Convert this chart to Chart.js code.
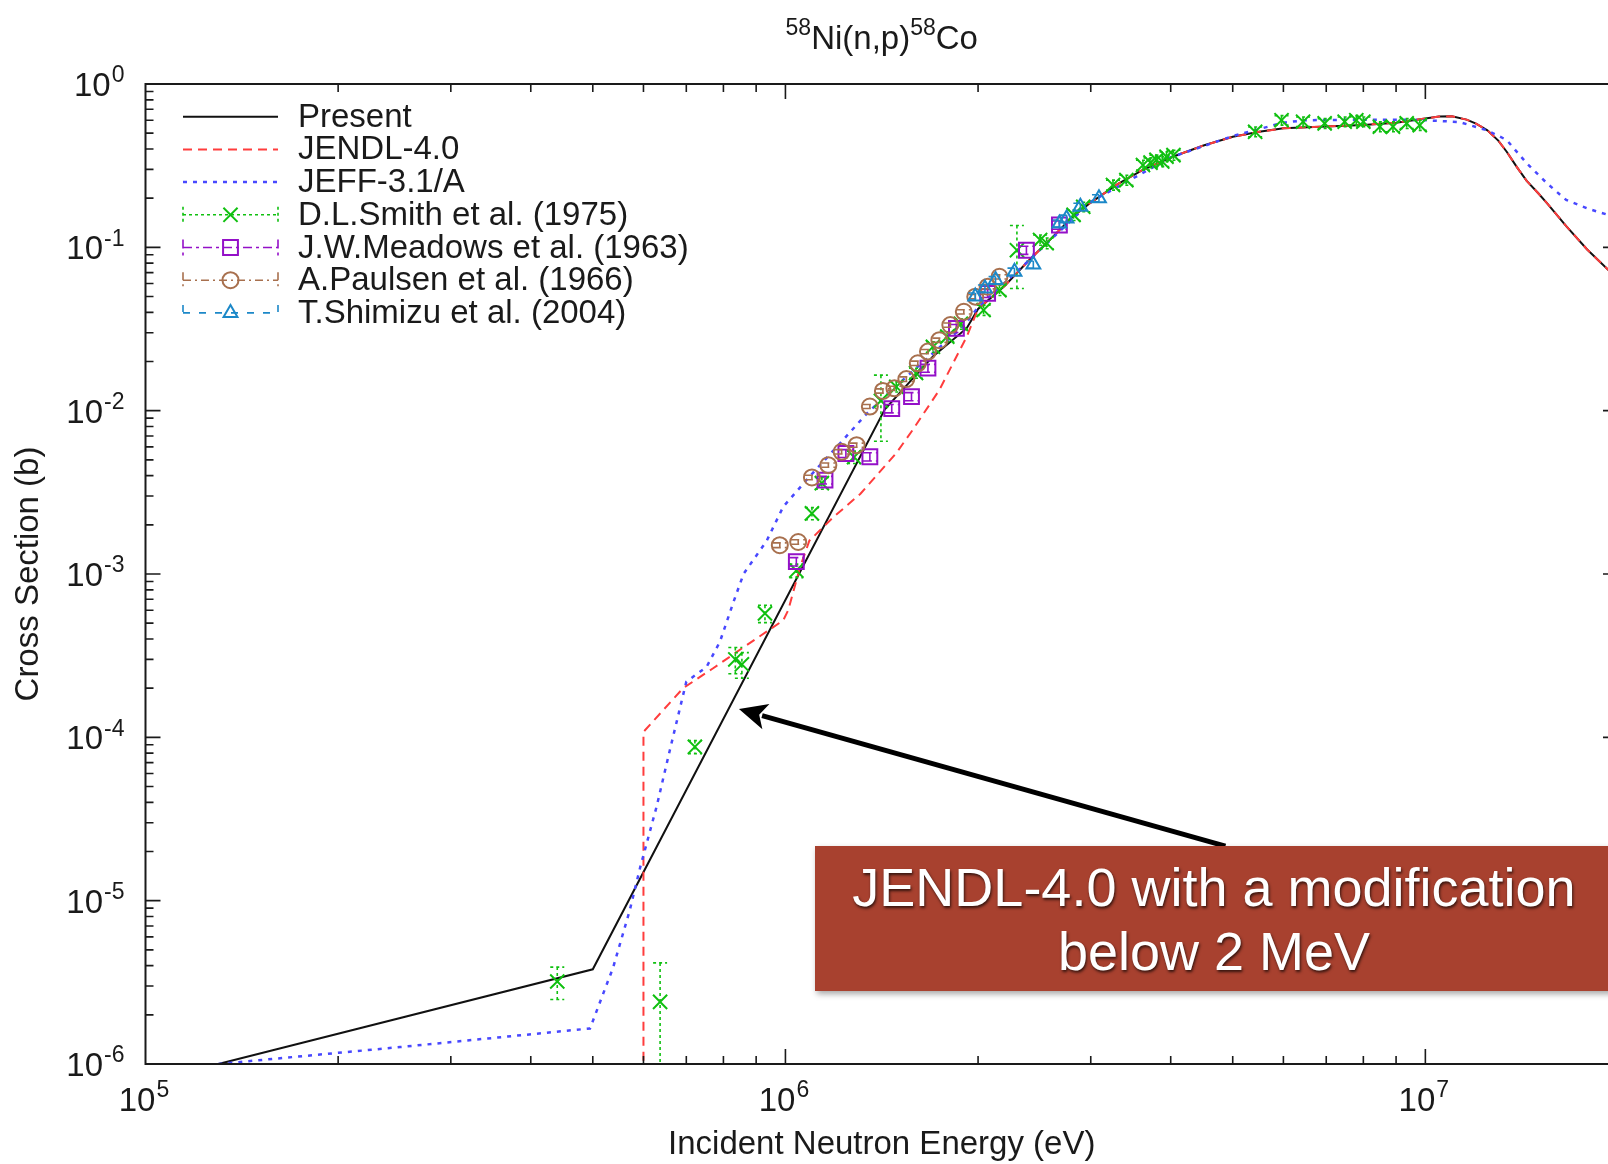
<!DOCTYPE html>
<html>
<head>
<meta charset="utf-8">
<title>58Ni(n,p)58Co</title>
<script src="https://cdn.jsdelivr.net/npm/chart.js@4.4.0/dist/chart.umd.min.js"></script>
<style>
  html, body { margin: 0; padding: 0; background: #fff; overflow: hidden; }
  #wrap { position: relative; width: 1608px; height: 1164px; overflow: hidden; }
  #xs { position: absolute; left: 0; top: 0; }
  .note {
    position: absolute; left: 815px; top: 846px; width: 798px; height: 145px;
    box-sizing: border-box; padding-top: 9px;
    background: #a8412f; color: #fff;
    font: 54px/64px "Liberation Sans", Arial, sans-serif; text-align: center;
    text-shadow: 1px 2px 3px rgba(0,0,0,0.7);
    box-shadow: 2px 3px 6px rgba(0,0,0,0.35);
  }
</style>
</head>
<body>
<div id="wrap">
  <canvas id="xs" width="1640" height="1164"></canvas>
  <div class="note">JENDL-4.0 with a modification<br>below 2 MeV</div>
</div>
<script>
(function () {
  "use strict";

  // evaluated curves (energy in eV, cross section in b)
  const highE  = [2.0e6, 2.2e6, 2.4e6, 2.6e6, 2.8e6, 3.0e6, 3.3e6, 3.6e6, 4.0e6, 4.5e6, 5.0e6, 5.5e6, 6.0e6, 7.0e6, 8.0e6, 9.0e6,
                  1.0e7, 1.05e7, 1.1e7, 1.16e7, 1.2e7, 1.25e7, 1.3e7, 1.34e7, 1.39e7, 1.44e7, 1.5e7, 1.55e7, 1.66e7, 1.79e7, 1.93e7, 2.0e7];
  const highXS = [0.042, 0.058, 0.083, 0.113, 0.152, 0.188, 0.243, 0.295, 0.355, 0.42, 0.475, 0.51, 0.535, 0.55, 0.562, 0.58,
                  0.615, 0.632, 0.634, 0.605, 0.572, 0.52, 0.45, 0.385, 0.31, 0.255, 0.215, 0.186, 0.135, 0.097, 0.073, 0.066];

  const presentLowE  = [1.3e5, 5.0e5, 1.43e6, 1.7e6, 1.92e6];
  const presentLowXS = [1.0e-6, 3.8e-6, 1.02e-2, 2.15e-2, 3.2e-2];

  const jendlLowE  = [6.0e5, 6.0e5, 6.92e5, 7.7e5, 8.7e5, 9.92e5, 1.01e6, 1.054e6, 1.09e6, 1.19e6, 1.31e6, 1.49e6, 1.58e6, 1.74e6, 1.92e6];
  const jendlLowXS = [1.0e-8, 1.08e-4, 2.0e-4, 2.64e-4, 3.67e-4, 5.2e-4, 6.0e-4, 1.1e-3, 1.6e-3, 2.24e-3, 3.1e-3, 5.5e-3, 7.6e-3, 1.34e-2, 2.84e-2];

  const jeffE  = [1.3e5, 2.5e5, 4.95e5, 5.38e5, 5.71e5, 5.93e5, 6.29e5, 6.6e5, 7.0e5, 7.53e5, 7.9e5, 8.28e5, 8.6e5, 9.35e5, 9.92e5,
                  1.09e6, 1.23e6, 1.34e6, 1.5e6, 1.7e6, 1.9e6, 2.0e6, 2.4e6, 3.0e6, 4.0e6, 5.0e6, 5.5e6, 6.0e6, 6.5e6, 8.0e6, 9.0e6,
                  1.0e7, 1.13e7, 1.25e7, 1.34e7, 1.44e7, 1.55e7, 1.66e7, 1.79e7, 1.93e7, 2.0e7];
  const jeffXS = [1.0e-6, 1.27e-6, 1.65e-6, 3.9e-6, 8.7e-6, 1.6e-5, 3.76e-5, 8.4e-5, 2.19e-4, 2.7e-4, 3.85e-4, 6.6e-4, 1.0e-3, 1.6e-3, 2.58e-3,
                  3.94e-3, 6.6e-3, 9.6e-3, 1.45e-2, 2.25e-2, 3.3e-2, 4.3e-2, 0.083, 0.19, 0.355, 0.48, 0.53, 0.58, 0.60, 0.605, 0.605,
                  0.60, 0.585, 0.52, 0.454, 0.327, 0.246, 0.195, 0.173, 0.158, 0.152];

  // measurements
  const smithE   = [4.4e5, 6.37e5, 7.22e5, 8.35e5, 8.55e5, 9.29e5, 1.04e6, 1.10e6, 1.14e6, 1.28e6, 1.41e6, 1.49e6, 1.60e6, 1.70e6,
                    1.79e6, 1.88e6, 2.04e6, 2.16e6, 2.30e6, 2.50e6, 2.56e6, 2.82e6, 2.92e6, 3.25e6, 3.41e6, 3.62e6, 3.72e6, 3.80e6,
                    3.88e6, 3.94e6, 4.04e6, 5.42e6, 5.96e6, 6.44e6, 6.96e6, 7.48e6, 7.80e6, 8.00e6, 8.49e6, 8.90e6, 9.35e6, 9.80e6];
  const smithXS  = [3.2e-6, 2.4e-6, 8.75e-5, 3.0e-4, 2.8e-4, 5.74e-4, 1.05e-3, 2.35e-3, 3.6e-3, 5.2e-3, 1.15e-2, 1.4e-2, 1.7e-2, 2.46e-2,
                    2.84e-2, 3.4e-2, 4.13e-2, 5.47e-2, 9.6e-2, 0.111, 0.106, 0.158, 0.177, 0.241, 0.258, 0.319, 0.33, 0.343,
                    0.335, 0.359, 0.367, 0.51, 0.60, 0.588, 0.574, 0.588, 0.60, 0.588, 0.548, 0.548, 0.574, 0.56];
  const smithErr = [0.72e-6, 1.76e-6, 0.8e-5, 0.55e-4, 0.5e-4, 0.7e-4, 0.1e-3, 0.2e-3, 0.3e-3, 0.45e-3, 0.5e-2, 0.1e-2, 0.12e-2, 0.18e-2,
                    0.2e-2, 0.25e-2, 0.3e-2, 0.4e-2, 0.04, 0.008, 0.008, 0.012, 0.012, 0.017, 0.018, 0.022, 0.023, 0.024,
                    0.023, 0.025, 0.026, 0.035, 0.04, 0.04, 0.04, 0.04, 0.04, 0.04, 0.038, 0.038, 0.04, 0.04];

  const meadowsE   = [1.04e6, 1.153e6, 1.243e6, 1.355e6, 1.466e6, 1.574e6, 1.67e6, 1.85e6, 2.07e6, 2.38e6, 2.68e6];
  const meadowsXS  = [1.19e-3, 3.76e-3, 5.47e-3, 5.22e-3, 1.03e-2, 1.22e-2, 1.82e-2, 3.19e-2, 5.23e-2, 9.6e-2, 0.137];
  const meadowsErr = [0.07e-3, 0.2e-3, 0.3e-3, 0.3e-3, 0.6e-3, 0.7e-3, 1.0e-3, 1.8e-3, 3.0e-3, 5.5e-3, 8.0e-3];

  const paulsenE   = [0.98e6, 1.047e6, 1.10e6, 1.167e6, 1.224e6, 1.292e6, 1.355e6, 1.42e6, 1.48e6, 1.545e6, 1.61e6, 1.67e6,
                      1.74e6, 1.81e6, 1.90e6, 1.98e6, 2.07e6, 2.16e6];
  const paulsenXS  = [1.5e-3, 1.57e-3, 3.9e-3, 4.64e-3, 5.6e-3, 6.15e-3, 1.06e-2, 1.32e-2, 1.37e-2, 1.56e-2, 1.95e-2, 2.3e-2,
                      2.7e-2, 3.34e-2, 4.03e-2, 4.99e-2, 5.74e-2, 6.6e-2];
  const paulsenErr = [0.05e-3, 0.05e-3, 0.12e-3, 0.14e-3, 0.17e-3, 0.18e-3, 0.3e-3, 0.4e-3, 0.4e-3, 0.5e-3, 0.6e-3, 0.7e-3,
                      0.8e-3, 1.0e-3, 1.2e-3, 1.5e-3, 1.7e-3, 2.0e-3];

  const shimizuE   = [1.98e6, 2.05e6, 2.13e6, 2.28e6, 2.44e6, 2.68e6, 2.75e6, 2.89e6, 3.09e6];
  const shimizuXS  = [5.0e-2, 5.6e-2, 6.3e-2, 7.1e-2, 7.85e-2, 0.14, 0.15, 0.177, 0.20];
  const shimizuErr = [2.5e-3, 2.8e-3, 3.2e-3, 3.6e-3, 4.0e-3, 7.0e-3, 7.5e-3, 9.0e-3, 1.0e-2];

  const xTicks = [1e5, 1e6, 1e7];
  const yTicks = [1, 1e-1, 1e-2, 1e-3, 1e-4, 1e-5, 1e-6];

  // arrow pointing at the modified part of the curve (eV, b)
  const arrowFrom = [4.87e6, 2.16e-5];
  const arrowTo   = [8.46e5, 1.49e-4];

  const FONT = '"Liberation Sans", Arial, Helvetica, sans-serif';
  const BIG = "33px " + FONT;
  const SUP = "23px " + FONT;
  const INK = "#1a1a1a";

  function pts(es, vs) {
    return es.map((e, i) => ({ x: e, y: vs[i] }));
  }

  function lineSet(label, es, vs, color, dash, width, order) {
    return {
      label, data: pts(es, vs), showLine: true, borderColor: color, backgroundColor: color,
      borderWidth: width, borderDash: dash, pointRadius: 0, tension: 0, order,
    };
  }

  function pointSet(label, es, vs, errs, color, style, radius, errDash, order) {
    return {
      label, data: pts(es, vs), errors: errs, errorDash: errDash, showLine: false,
      borderColor: color, backgroundColor: "rgba(0,0,0,0)",
      pointStyle: style, pointRadius: radius, pointBorderWidth: 2,
      pointBorderColor: color, pointBackgroundColor: "rgba(0,0,0,0)", order,
    };
  }

  // lower order is painted later, so JENDL sits on top of Present
  const datasets = [
    lineSet("Present", presentLowE.concat(highE), presentLowXS.concat(highXS), "#111", [], 2, 7),
    lineSet("JENDL-4.0", jendlLowE.concat(highE), jendlLowXS.concat(highXS), "#ff3d3d", [9, 6], 2, 6),
    lineSet("JEFF-3.1/A", jeffE, jeffXS, "#4848ff", [4, 6], 2.5, 5),
    pointSet("D.L.Smith et al. (1975)", smithE, smithXS, smithErr, "#10c010", "crossRot", 10, [3, 3], 4),
    pointSet("J.W.Meadows et al. (1963)", meadowsE, meadowsXS, meadowsErr, "#9410c8", "rect", 10.5, [9, 4, 3, 4], 3),
    pointSet("A.Paulsen et al. (1966)", paulsenE, paulsenXS, paulsenErr, "#a8704e", "circle", 8, [8, 4, 2, 4], 2),
    pointSet("T.Shimizu et al. (2004)", shimizuE, shimizuXS, shimizuErr, "#1c88c8", "triangle", 8, [7, 9], 1),
  ];

  // "10" with a superscript exponent
  function drawPower(ctx, base, sup, x, y, align) {
    ctx.font = BIG;
    const wb = ctx.measureText(base).width;
    ctx.font = SUP;
    const ws = ctx.measureText(sup).width;
    let left = x;
    if (align === "center") left = x - (wb + ws) / 2;
    if (align === "right") left = x - wb - ws;
    ctx.textAlign = "left";
    ctx.textBaseline = "middle";
    ctx.font = BIG;
    ctx.fillText(base, left, y);
    ctx.font = SUP;
    ctx.fillText(sup, left + wb + 1, y - 11);
  }

  function drawMarker(ctx, style, x, y, r) {
    ctx.beginPath();
    if (style === "crossRot") {
      const d = r * Math.SQRT1_2;
      ctx.moveTo(x - d, y - d); ctx.lineTo(x + d, y + d);
      ctx.moveTo(x + d, y - d); ctx.lineTo(x - d, y + d);
    } else if (style === "rect") {
      const s = r * Math.SQRT1_2;
      ctx.rect(x - s, y - s, 2 * s, 2 * s);
    } else if (style === "circle") {
      ctx.arc(x, y, r, 0, Math.PI * 2);
    } else if (style === "triangle") {
      for (let k = 0; k < 3; k++) {
        const a = k * 2 * Math.PI / 3;
        const px = x + Math.sin(a) * r, py = y - Math.cos(a) * r;
        if (k === 0) ctx.moveTo(px, py); else ctx.lineTo(px, py);
      }
      ctx.closePath();
    }
    ctx.stroke();
  }

  const errorBars = {
    id: "errorBars",
    afterDatasetDraw(chart, args) {
      const ds = chart.data.datasets[args.index];
      if (!ds.errors) return;
      const { ctx, chartArea: a } = chart;
      const xs = chart.scales.x, ys = chart.scales.y;
      ctx.save();
      ctx.beginPath();
      ctx.rect(a.left, a.top, a.right - a.left, a.bottom - a.top);
      ctx.clip();
      ctx.strokeStyle = ds.borderColor;
      ctx.lineWidth = 1.6;
      ctx.setLineDash(ds.errorDash);
      ds.data.forEach((p, i) => {
        const e = ds.errors[i];
        const px = xs.getPixelForValue(p.x);
        const top = ys.getPixelForValue(p.y + e);
        const lo = p.y - e;
        const bot = lo > 0 ? ys.getPixelForValue(lo) : a.bottom + 20;
        ctx.beginPath();
        ctx.moveTo(px, top); ctx.lineTo(px, bot);
        ctx.moveTo(px - 7, top); ctx.lineTo(px + 7, top);
        if (lo > 0) { ctx.moveTo(px - 7, bot); ctx.lineTo(px + 7, bot); }
        ctx.stroke();
      });
      ctx.restore();
    },
  };

  const frame = {
    id: "frame",
    afterDraw(chart) {
      const { ctx, chartArea: a } = chart;
      const xs = chart.scales.x, ys = chart.scales.y;
      ctx.save();
      ctx.strokeStyle = INK;
      ctx.fillStyle = INK;
      ctx.lineWidth = 2;
      ctx.setLineDash([]);
      ctx.strokeRect(a.left, a.top, a.right - a.left, a.bottom - a.top);

      // inward ticks on all four sides
      ctx.lineWidth = 1.6;
      ctx.beginPath();
      for (let d = 5; d <= 7; d++) {
        for (let k = 1; k <= 9; k++) {
          const v = k * Math.pow(10, d);
          if (v <= 1e5 || v >= 2e7) continue;
          const px = xs.getPixelForValue(v);
          const len = k === 1 ? 15 : 8;
          ctx.moveTo(px, a.bottom); ctx.lineTo(px, a.bottom - len);
          ctx.moveTo(px, a.top); ctx.lineTo(px, a.top + len);
        }
      }
      for (let d = -6; d < 0; d++) {
        for (let k = 1; k <= 9; k++) {
          const v = k * Math.pow(10, d);
          if (v <= 1e-6) continue;
          const py = ys.getPixelForValue(v);
          const len = k === 1 ? 15 : 8;
          ctx.moveTo(a.left, py); ctx.lineTo(a.left + len, py);
          ctx.moveTo(a.right, py); ctx.lineTo(a.right - len, py);
        }
      }
      ctx.stroke();

      // tick labels
      yTicks.forEach((v) => {
        const py = ys.getPixelForValue(v);
        drawPower(ctx, "10", String(Math.round(Math.log10(v))), a.left - 22, py + 3, "right");
      });
      xTicks.forEach((v) => {
        const px = xs.getPixelForValue(v);
        drawPower(ctx, "10", String(Math.round(Math.log10(v))), px - 2, 1102, "center");
      });

      // axis titles
      ctx.font = BIG;
      ctx.textAlign = "center";
      ctx.textBaseline = "middle";
      ctx.fillText("Incident Neutron Energy (eV)", (a.left + a.right) / 2, 1145);
      ctx.save();
      ctx.translate(29, (a.top + a.bottom) / 2);
      ctx.rotate(-Math.PI / 2);
      ctx.fillText("Cross Section (b)", 0, 0);
      ctx.restore();

      // title with mass-number superscripts
      const parts = [["58", true], ["Ni(n,p)", false], ["58", true], ["Co", false]];
      let total = 0;
      parts.forEach(([t, s]) => { ctx.font = s ? SUP : BIG; total += ctx.measureText(t).width; });
      let tx = (a.left + a.right) / 2 - total / 2;
      ctx.textAlign = "left";
      parts.forEach(([t, s]) => {
        ctx.font = s ? SUP : BIG;
        ctx.fillText(t, tx, s ? 29 : 40);
        tx += ctx.measureText(t).width;
      });

      // legend
      const x1 = 183, x2 = 278, xm = 230.5, tx0 = 298;
      chart.data.datasets.forEach((ds, i) => {
        const y = 116.7 + i * 32.7;
        ctx.strokeStyle = ds.borderColor;
        ctx.lineWidth = ds.errors ? 1.6 : ds.borderWidth;
        ctx.setLineDash(ds.errors ? ds.errorDash : ds.borderDash);
        ctx.beginPath();
        ctx.moveTo(x1, y); ctx.lineTo(x2, y);
        if (ds.errors) {
          ctx.moveTo(x1, y - 8); ctx.lineTo(x1, y + 8);
          ctx.moveTo(x2, y - 8); ctx.lineTo(x2, y + 8);
        }
        ctx.stroke();
        if (ds.errors) {
          ctx.setLineDash([]);
          ctx.lineWidth = 2;
          drawMarker(ctx, ds.pointStyle, xm, y, ds.pointRadius);
        }
        ctx.setLineDash([]);
        ctx.fillStyle = INK;
        ctx.font = BIG;
        ctx.textBaseline = "middle";
        ctx.fillText(ds.label, tx0, y + 1);
      });

      // arrow
      const ax0 = xs.getPixelForValue(arrowFrom[0]), ay0 = ys.getPixelForValue(arrowFrom[1]);
      const ax1 = xs.getPixelForValue(arrowTo[0]), ay1 = ys.getPixelForValue(arrowTo[1]);
      const ang = Math.atan2(ay1 - ay0, ax1 - ax0);
      const hl = 28, hw = 13;
      const bx = ax1 - Math.cos(ang) * hl, by = ay1 - Math.sin(ang) * hl;
      ctx.strokeStyle = "#000";
      ctx.fillStyle = "#000";
      ctx.lineWidth = 5;
      ctx.beginPath();
      ctx.moveTo(ax0, ay0); ctx.lineTo(bx + Math.cos(ang) * 4, by + Math.sin(ang) * 4);
      ctx.stroke();
      ctx.beginPath();
      ctx.moveTo(ax1, ay1);
      ctx.lineTo(bx + Math.sin(ang) * hw, by - Math.cos(ang) * hw);
      ctx.lineTo(bx + Math.cos(ang) * 7, by + Math.sin(ang) * 7);
      ctx.lineTo(bx - Math.sin(ang) * hw, by + Math.cos(ang) * hw);
      ctx.closePath();
      ctx.fill();
      ctx.restore();
    },
  };

  new Chart(document.getElementById("xs"), {
    type: "scatter",
    data: { datasets },
    options: {
      responsive: false,
      animation: false,
      events: [],
      layout: { padding: { left: 145.5, top: 84, right: 22, bottom: 100 } },
      plugins: { legend: { display: false }, tooltip: { enabled: false }, title: { display: false } },
      scales: {
        x: { type: "logarithmic", min: 1e5, max: 2e7, display: false },
        y: { type: "logarithmic", min: 1e-6, max: 1, display: false },
      },
    },
    plugins: [errorBars, frame],
  });
})();
</script>
</body>
</html>
